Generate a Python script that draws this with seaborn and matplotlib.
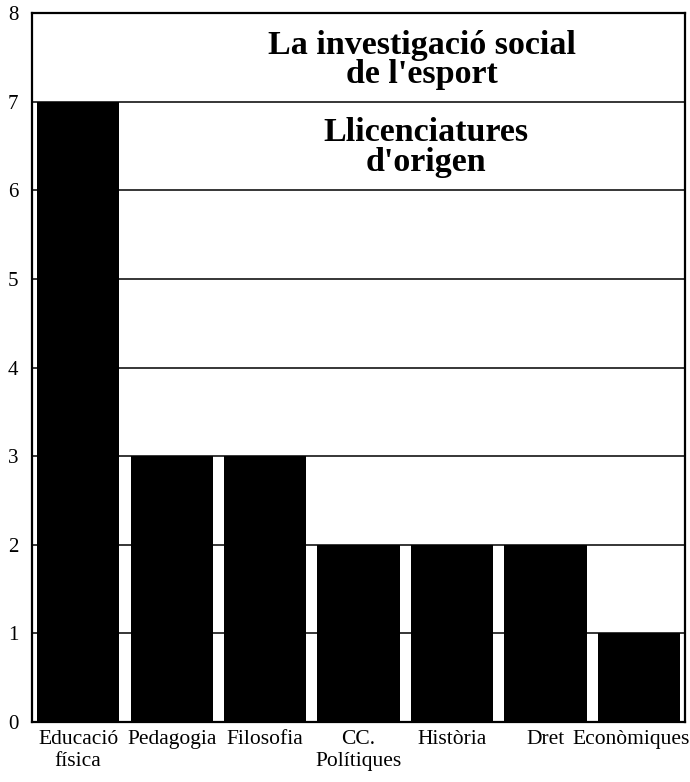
import pandas as pd
import matplotlib.pyplot as plt
import matplotlib.transforms as mtransforms
import seaborn as sns

# Llicenciatures d'origen dels investigadors
categories = ['Educació\nfísica', 'Pedagogia', 'Filosofia', 'CC.\nPolítiques',
              'Història', 'Dret', 'Econòmiques']
counts = [7, 3, 3, 2, 2, 2, 1]
y_ticks = list(range(0, 9))

sns.set_style('white')
plt.rcParams['font.family'] = ['Liberation Serif', 'DejaVu Serif']
plt.rcParams['text.color'] = 'black'

df = pd.DataFrame({'llicenciatura': categories, 'n': counts})

fig = plt.figure(figsize=(6.9, 7.82), dpi=100)
ax = fig.add_axes([0.0464, 0.0767, 0.9464, 0.9067])

sns.barplot(data=df, x='llicenciatura', y='n', color='black', saturation=1,
            width=0.88, edgecolor='black', linewidth=0, ax=ax, zorder=3)

ax.set_ylim(0, 8)
ax.set_xlim(-0.494, 6.494)
ax.set_yticks(y_ticks)
ax.yaxis.grid(True, color='black', linewidth=1.1, zorder=0)
ax.xaxis.grid(False)
ax.set_axisbelow(True)

for side in ['left', 'right', 'top', 'bottom']:
    ax.spines[side].set_visible(True)
    ax.spines[side].set_color('black')
    ax.spines[side].set_linewidth(1.6)

ax.tick_params(axis='both', length=0, colors='black')
ax.tick_params(axis='y', pad=10, labelsize=15)
ax.tick_params(axis='x', pad=6, labelsize=15.5)
ax.set_xlabel('')
ax.set_ylabel('')

# last label sits close to the right edge, nudge it a little to the left
last = ax.get_xticklabels()[-1]
last.set_transform(last.get_transform() +
                   mtransforms.ScaledTranslation(-8 / 100, 0, fig.dpi_scale_trans))

ax.text(3.68, 7.47, "La investigació social\nde l'esport", ha='center', va='center',
        fontsize=24.5, fontweight='bold', linespacing=0.95, color='black')
ax.text(3.72, 6.48, "Llicenciatures\nd'origen", ha='center', va='center',
        fontsize=24.5, fontweight='bold', linespacing=0.95, color='black')

plt.savefig('out.png', dpi=100)
